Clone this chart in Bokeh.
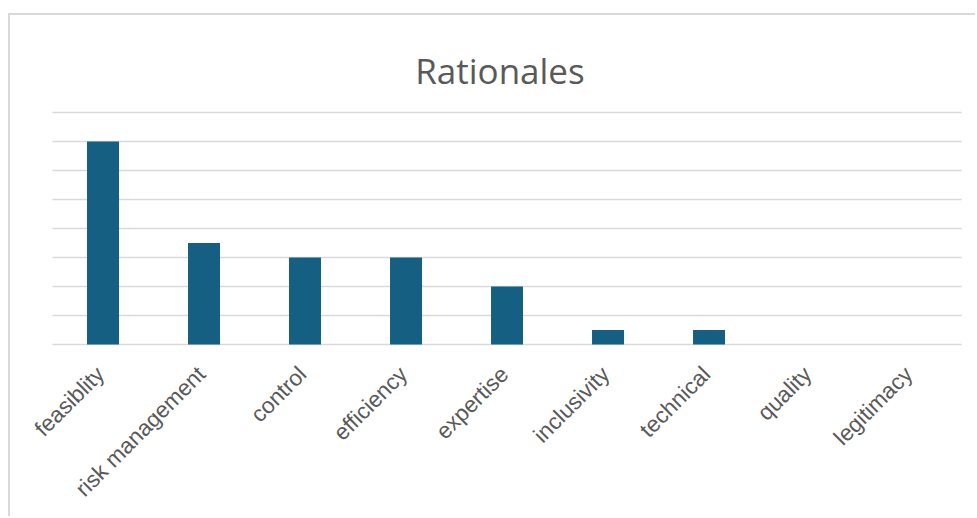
import math
from bokeh.plotting import figure
from bokeh.models import Range1d, ColumnDataSource
from bokeh.core.properties import value
from bokeh.embed import file_html
from bokeh.resources import INLINE

categories = ["feasiblity", "risk management", "control", "efficiency", "expertise",
              "inclusivity", "technical", "quality", "legitimacy"]
counts = [7, 3.5, 3, 3, 2, 0.5, 0.5, 0, 0]
grid_ticks = [0, 1, 2, 3, 4, 5, 6, 7, 8]
title_text = "Rationales"

idx = list(range(len(categories)))
n = len(categories)

p = figure(x_range=Range1d(-0.916, 8.658), y_range=Range1d(-6.0, 11.348),
           width=967, height=503, min_border=0,
           x_axis_location=None, y_axis_location=None,
           output_backend="svg", toolbar_location=None)
p.styles = {"margin-left": "8px", "margin-top": "13px",
            "border-left": "2px solid #d9d9d9", "border-top": "2px solid #d9d9d9"}
p.grid.visible = False
p.outline_line_color = None

# gridlines
p.segment(x0=[-0.5] * len(grid_ticks), x1=[n - 0.5] * len(grid_ticks),
          y0=grid_ticks, y1=grid_ticks, line_color="#d9d9d9", line_width=1.5)

# bars
p.vbar(x=idx, top=counts, bottom=0, width=0.317, fill_color="#156082", line_color=None)

# category labels
lab = ColumnDataSource(dict(x=idx, y=[0] * n, t=categories))
p.text(x="x", y="y", text="t", source=lab, angle=math.pi / 4,
       text_align="right", text_baseline="middle", x_offset=-2.5, y_offset=26,
       text_font=value("Liberation Sans"), text_font_size="22.5px",
       text_color="#595959")

# title
p.text(x=[(n - 1) / 2 - 0.07], y=[9.45], text=[title_text], text_align="center",
       text_baseline="alphabetic", text_font=value("Open Sans"),
       text_font_size="35px", text_color="#595959")

open("out.html", "w").write(file_html(p, INLINE))
